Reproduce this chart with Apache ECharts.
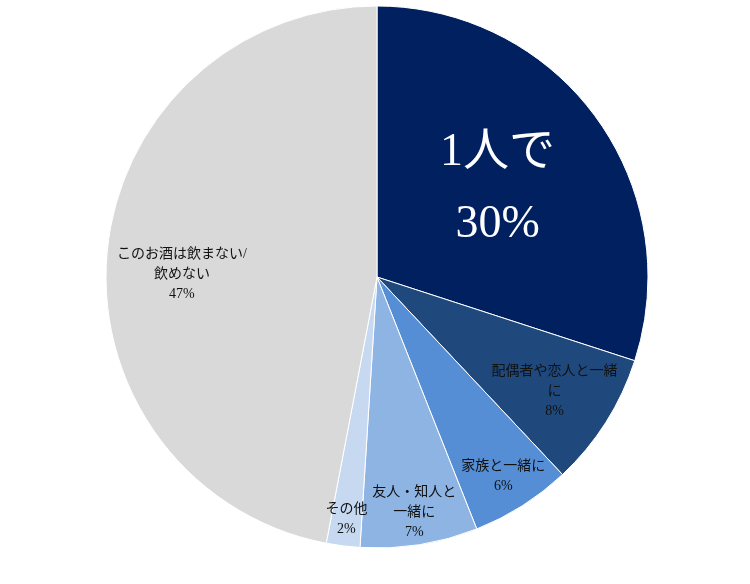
<!DOCTYPE html>
<html>
<head>
<meta charset="utf-8">
<script src="https://cdn.jsdelivr.net/npm/echarts@6/dist/echarts.min.js"></script>
<style>
  html, body { margin: 0; padding: 0; background: #fff; }
  #main { width: 750px; height: 584px; }
</style>
</head>
<body>
<div id="main"></div>
<script>
var categories = ["1人で", "配偶者や恋人と一緒に", "家族と一緒に", "友人・知人と一緒に", "その他", "このお酒は飲まない/飲めない"];
var values = [30, 8, 6, 7, 2, 47];

var colors = ["#002060", "#1f497d", "#558ed5", "#8eb4e3", "#c6d9f1", "#d9d9d9"];
// label placement: fraction of radius, angle nudge (deg), wrap width
var labelRadius = [0.55, 0.78, 0.87, 0.88, 0.9, 0.72];
var labelTurn = [0, 0.5, 0, 0, 0, -4.5];
var labelWidth = [200, 130, 90, 88, 46, 136];

var font = "'Liberation Serif', 'Noto Sans CJK JP', serif";
var cx = 377, cy = 277, R = 271;

var chart = echarts.init(document.getElementById("main"));

var data = categories.map(function (name, i) {
  var item = {
    name: name,
    value: values[i],
    itemStyle: { color: colors[i] },
    label: { width: labelWidth[i] }
  };
  if (i === 0) {
    item.label = {
      width: labelWidth[i],
      color: "#fff",
      fontSize: 46,
      lineHeight: 72,
      formatter: "{b}\n{d}%"
    };
  }
  return item;
});

chart.setOption({
  animation: false,
  series: [
    {
      type: "pie",
      center: [cx, cy],
      radius: [0, R],
      startAngle: 90,
      clockwise: true,
      itemStyle: { borderColor: "#fff", borderWidth: 1 },
      label: {
        show: true,
        position: "inside",
        color: "#111",
        fontFamily: font,
        fontSize: 14,
        lineHeight: 20,
        overflow: "break",
        align: "center",
        formatter: "{b}\n{d}%"
      },
      labelLine: { show: false },
      labelLayout: function (p) {
        var i = p.dataIndex;
        var r = p.labelRect;
        var lx = r.x + r.width / 2, ly = r.y + r.height / 2;
        var a = Math.atan2(ly - cy, lx - cx) + labelTurn[i] * Math.PI / 180;
        var d = labelRadius[i] * R;
        return { dx: cx + d * Math.cos(a) - lx, dy: cy + d * Math.sin(a) - ly };
      },
      data: data
    }
  ]
});
</script>
</body>
</html>
